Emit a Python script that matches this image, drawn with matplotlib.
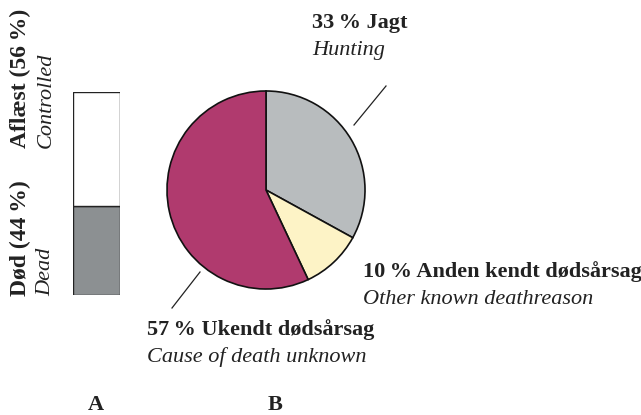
import matplotlib
matplotlib.use('Agg')
import matplotlib.pyplot as plt

# Panel A: status of the animals (percent)
status_labels = ['Død', 'Aflæst']
status_labels_en = ['Dead', 'Controlled']
status_values = [44, 56]
status_colors = ['#8c9092', '#ffffff']

# Panel B: cause of death (percent), clockwise from the top
cause_labels = ['Jagt', 'Anden kendt dødsårsag', 'Ukendt dødsårsag']
cause_labels_en = ['Hunting', 'Other known deathreason', 'Cause of death unknown']
cause_values = [33, 10, 57]
cause_colors = ['#b8bcbe', '#fdf3c6', '#b03a6e']

plt.rcParams['font.family'] = ['Liberation Serif', 'DejaVu Serif']

W, H = 641, 415
fig = plt.figure(figsize=(W / 100, H / 100), dpi=100)


def px_rect(x0, y0, x1, y1):
    # pixel box (top-left origin) -> figure fraction rect
    return [x0 / W, 1 - y1 / H, (x1 - x0) / W, (y1 - y0) / H]


def txt(x, y, s, **kw):
    fig.text(x / W, 1 - y / H, s, **kw)


# stacked bar (A)
ax_a = fig.add_axes(px_rect(73, 92, 120, 295))
bottom = 0
for v, c in zip(status_values, status_colors):
    ax_a.bar(0, v, width=1, bottom=bottom, color=c, edgecolor='#222222', linewidth=1)
    bottom += v
ax_a.set_xlim(-0.5, 0.5)
ax_a.set_ylim(0, 100)
ax_a.axis('off')

# pie (B)
ax_b = fig.add_axes(px_rect(166, 90, 366, 290))
ax_b.pie(cause_values, colors=cause_colors, startangle=90, counterclock=False,
         wedgeprops={'edgecolor': '#111111', 'linewidth': 1.2})
ax_b.set_xlim(-1.01, 1.01)
ax_b.set_ylim(-1.01, 1.01)

# overlay for leader lines in pixel coords
ov = fig.add_axes([0, 0, 1, 1], zorder=-1)
ov.set_xlim(0, W)
ov.set_ylim(H, 0)
ov.axis('off')
ov.plot([354, 386], [125, 86], color='#222222', lw=0.9)
ov.plot([200, 172], [272, 308], color='#222222', lw=0.9)

fs = 16
ink = '#222222'

# rotated bar labels
txt(20, 148, f'{status_labels[1]} ({status_values[1]}\u2009%)', rotation=90,
    ha='center', va='bottom', fontsize=fs + 1, fontweight='bold', color=ink)
txt(46, 148, status_labels_en[1], rotation=90, ha='center', va='bottom',
    fontsize=fs, fontstyle='italic', color=ink)
txt(20, 296, f'{status_labels[0]} ({status_values[0]}\u2009%)', rotation=90,
    ha='center', va='bottom', fontsize=fs + 1, fontweight='bold', color=ink)
txt(46, 296, status_labels_en[0], rotation=90, ha='center', va='bottom',
    fontsize=fs, fontstyle='italic', color=ink)

# pie labels
pie_pos = [(312, 23), (363, 272), (147, 330)]
for (x, y), v, lab, en in zip(pie_pos, cause_values, cause_labels, cause_labels_en):
    txt(x, y, f'{v}\u2009% {lab}', ha='left', va='center', fontsize=fs,
        fontweight='bold', color=ink)
    txt(x, y + 27, en, ha='left', va='center', fontsize=fs,
        fontstyle='italic', color=ink)

txt(96, 405, 'A', ha='center', va='center', fontsize=fs, fontweight='bold', color=ink)
txt(275, 405, 'B', ha='center', va='center', fontsize=fs, fontweight='bold', color=ink)

fig.savefig('out.png', dpi=100, facecolor='white')
